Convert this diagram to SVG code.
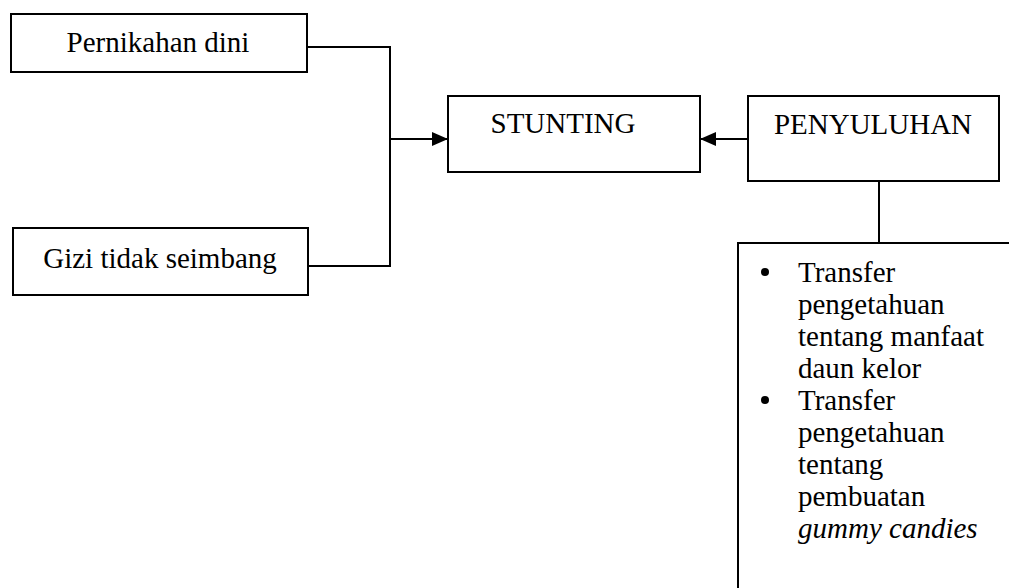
<svg xmlns="http://www.w3.org/2000/svg" width="1009" height="588" viewBox="0 0 1009 588">
<defs>
<style>
.box{fill:#fff;stroke:#000;stroke-width:2}
.t{font-family:"Liberation Serif","Times New Roman",serif;font-size:29px;fill:#000}
.c{text-anchor:middle}
.ln{fill:none;stroke:#000;stroke-width:2}
</style>
<marker id="ah" viewBox="0 0 16 14" refX="16" refY="7" markerWidth="16" markerHeight="14" markerUnits="userSpaceOnUse" orient="auto">
<path d="M0,0 L16,7 L0,14 Z" fill="#000"/>
</marker>
</defs>
<rect width="1009" height="588" fill="#fff"/>
<g id="connectors">
<path class="ln" d="M307,47 H390 V266 H308"/>
<path class="ln" d="M390,139 H448" marker-end="url(#ah)"/>
<path class="ln" d="M748,139 H700" marker-end="url(#ah)"/>
<path class="ln" d="M879,181 V243"/>
</g>
<g id="pernikahan">
<rect class="box" x="11" y="14" width="296" height="58"/>
<text class="t c" x="158" y="52">Pernikahan dini</text>
</g>
<g id="gizi">
<rect class="box" x="13" y="228" width="295" height="67"/>
<text class="t c" x="160" y="268">Gizi tidak seimbang</text>
</g>
<g id="stunting">
<rect class="box" x="448" y="96" width="252" height="76"/>
<text class="t c" x="563" y="133">STUNTING</text>
</g>
<g id="penyuluhan">
<rect class="box" x="748" y="96" width="251" height="85"/>
<text class="t c" x="873" y="134">PENYULUHAN</text>
</g>
<g id="list">
<rect class="box" x="738" y="243" width="290" height="360"/>
<circle cx="765" cy="272" r="4" fill="#000"/>
<circle cx="765" cy="400" r="4" fill="#000"/>
<text class="t" x="798" y="282">Transfer</text>
<text class="t" x="798" y="314">pengetahuan</text>
<text class="t" x="798" y="346">tentang manfaat</text>
<text class="t" x="798" y="378">daun kelor</text>
<text class="t" x="798" y="410">Transfer</text>
<text class="t" x="798" y="442">pengetahuan</text>
<text class="t" x="798" y="474">tentang</text>
<text class="t" x="798" y="506">pembuatan</text>
<text class="t" x="798" y="538" font-style="italic">gummy candies</text>
</g>
</svg>
